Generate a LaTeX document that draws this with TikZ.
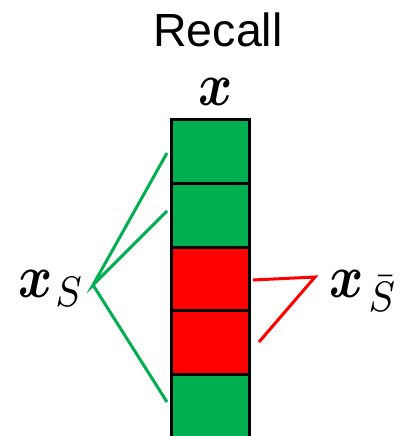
\documentclass[tikz,border=0pt]{standalone}
\usepackage{amsmath,bm}
\usepackage{fontspec}
\newfontfamily\recallfont{Liberation Sans}
\definecolor{pgreen}{RGB}{0,176,80}
\definecolor{pred}{RGB}{255,0,0}
\newcommand{\biglbl}[1]{\scalebox{5.2}[6.1]{#1}}
\begin{document}
\begin{tikzpicture}[x=1pt,y=-1pt,
  cell/.style={draw=black,line width=2.5pt,minimum width=78pt,minimum height=64pt,inner sep=0pt,anchor=north west},
  gcell/.style={cell,fill=pgreen},
  rcell/.style={cell,fill=pred},
  gline/.style={draw=pgreen,line width=3pt},
  rline/.style={draw=pred,line width=3pt},
  mathlbl/.style={inner sep=0pt}
]
\useasboundingbox (0,0) rectangle (399,436);
\node[inner sep=0pt,anchor=base,font=\recallfont\fontsize{46.5}{52}\selectfont] (title) at (218,47) {Recall};
\node[gcell] (b1) at (170,118) {};
\node[gcell] (b2) at (170,182) {};
\node[rcell] (b3) at (170,246) {};
\node[rcell] (b4) at (170,309) {};
\node[gcell] (b5) at (170,373) {};
\node[mathlbl,anchor=base] (xlbl) at (216,105) {\biglbl{$\bm{x}$}};
\node[mathlbl,anchor=base west] (xs) at (18,297) {\biglbl{$\bm{x}_{\mkern1mu S}$}};
\node[mathlbl,anchor=base west] (xsb) at (329,297) {\biglbl{$\bm{x}_{\mkern2mu\bar S}$}};
\coordinate (gc) at (93,285);
\coordinate (g1) at (167,153);
\coordinate (g2) at (167,211);
\coordinate (g3) at (167,402);
\coordinate (r1) at (253,280);
\coordinate (rc) at (315,277);
\coordinate (r2) at (259,342);
\draw[gline] (g1) -- (gc) -- (g2);
\draw[gline] (gc) -- (g3);
\draw[rline] (r1) -- (rc) -- (r2);
\end{tikzpicture}
\end{document}
